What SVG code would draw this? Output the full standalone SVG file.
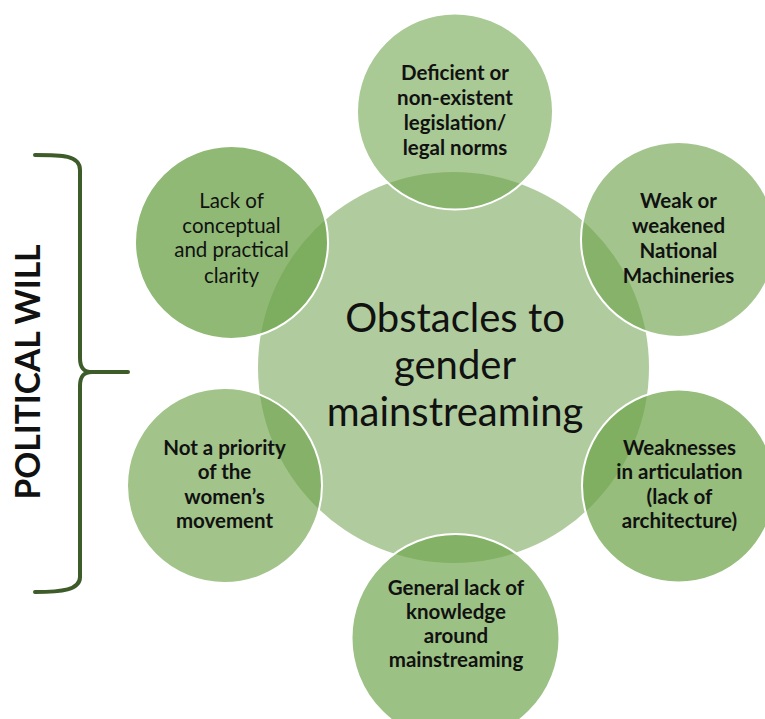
<svg xmlns="http://www.w3.org/2000/svg" width="765" height="719" viewBox="0 0 765 719">
  <style>
    .hub { fill: #b0cc9e; }
    .sat { fill: #6da34a; stroke: #ffffff; stroke-width: 2; }
    .hub-label { font-family: Lato, "Open Sans", "Liberation Sans", sans-serif; font-size: 40px; fill: #111; text-anchor: middle; }
    .label { font-family: Lato, "Open Sans", "Liberation Sans", sans-serif; font-size: 20.5px; font-weight: bold; fill: #111; text-anchor: middle; }
    .label.plain { font-weight: normal; }
    .side { font-family: Lato, "Liberation Sans", sans-serif; font-size: 33.5px; font-weight: bold; fill: #111; text-anchor: middle; }
    .brace { fill: none; stroke: #3e5b2a; stroke-width: 4; stroke-linecap: round; stroke-linejoin: round; }
  </style>
  <rect width="765" height="719" fill="#ffffff"/>

  <!-- central hub -->
  <g id="hub">
    <circle class="hub" cx="453.5" cy="367.5" r="195.5"/>
  </g>

  <!-- surrounding obstacles (semi-transparent so overlaps darken) -->
  <g id="node-legislation">
    <circle class="sat" cx="455" cy="111.5" r="98" fill-opacity="0.59"/>
    <text class="label"><tspan x="455" y="80">Deficient or</tspan><tspan x="455" y="105">non-existent</tspan><tspan x="455" y="130">legislation/</tspan><tspan x="455" y="155">legal norms</tspan></text>
  </g>
  <g id="node-machineries">
    <circle class="sat" cx="678.5" cy="239.5" r="97.5" fill-opacity="0.63"/>
    <text class="label"><tspan x="678.5" y="208">Weak or</tspan><tspan x="678.5" y="233">weakened</tspan><tspan x="678.5" y="258">National</tspan><tspan x="678.5" y="283">Machineries</tspan></text>
  </g>
  <g id="node-articulation">
    <circle class="sat" cx="678.5" cy="486" r="96.5" fill-opacity="0.72"/>
    <text class="label"><tspan x="679.5" y="455">Weaknesses</tspan><tspan x="679.5" y="479">in articulation</tspan><tspan x="679.5" y="504">(lack of</tspan><tspan x="679.5" y="528">architecture)</tspan></text>
  </g>
  <g id="node-knowledge">
    <circle class="sat" cx="455.5" cy="638" r="104" fill-opacity="0.68"/>
    <text class="label"><tspan x="456" y="595">General lack of</tspan><tspan x="456" y="619">knowledge</tspan><tspan x="456" y="643">around</tspan><tspan x="456" y="667">mainstreaming</tspan></text>
  </g>
  <g id="node-priority">
    <circle class="sat" cx="224.5" cy="485.5" r="97.5" fill-opacity="0.64"/>
    <text class="label"><tspan x="224.5" y="455">Not a priority</tspan><tspan x="224.5" y="479">of the</tspan><tspan x="224.5" y="504">women’s</tspan><tspan x="224.5" y="528">movement</tspan></text>
  </g>
  <g id="node-clarity">
    <circle class="sat" cx="231.5" cy="242.5" r="96.5" fill-opacity="0.76"/>
    <text class="label plain"><tspan x="231.5" y="208">Lack of</tspan><tspan x="231.5" y="233">conceptual</tspan><tspan x="231.5" y="257">and practical</tspan><tspan x="231.5" y="283">clarity</tspan></text>
  </g>

  <!-- hub title drawn above the overlaps -->
  <text class="hub-label"><tspan x="455" y="332">Obstacles to</tspan><tspan x="455" y="379">gender</tspan><tspan x="455" y="426">mainstreaming</tspan></text>

  <!-- grouping brace and its caption -->
  <g id="connectors">
    <path class="brace" d="M35,155 C62,155 80,155 80,170 L80,358 C80,368 84,372 92,372 L128,372 M92,372 C84,372 80,376 80,386 L80,577 C80,590 62,592 35,592"/>
  </g>
  <g id="political-will">
    <text class="side" transform="translate(40,372) rotate(-90)">POLITICAL WILL</text>
  </g>
</svg>
